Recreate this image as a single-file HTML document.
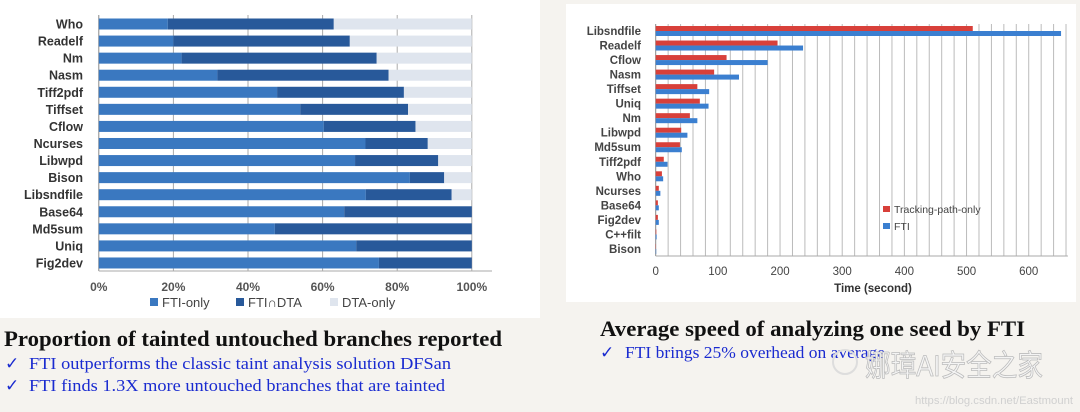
<!DOCTYPE html>
<html><head><meta charset="utf-8"><style>
html,body{margin:0;padding:0;background:#f5f3ef;}
svg{display:block;font-family:"Liberation Sans",sans-serif;}
</style></head><body>
<svg id="s" width="1080" height="412" viewBox="0 0 1080 412" xmlns="http://www.w3.org/2000/svg">
<rect x="0" y="0" width="540" height="318" fill="#ffffff"/>
<rect x="566" y="4" width="510" height="298" fill="#ffffff"/>
<g id="left"></g>
<g id="right"></g>
<text x="4" y="346" font-family="Liberation Serif,serif" font-weight="bold" font-size="22" textLength="498" lengthAdjust="spacingAndGlyphs" fill="#111">Proportion of tainted untouched branches reported</text>
<text x="5" y="369" font-family="Liberation Serif,serif" font-size="17" fill="#1a2bd0">✓</text>
<text x="29" y="369" font-family="Liberation Serif,serif" font-size="17" textLength="422" lengthAdjust="spacingAndGlyphs" fill="#1a2bd0">FTI outperforms the classic taint analysis solution DFSan</text>
<text x="5" y="391" font-family="Liberation Serif,serif" font-size="17" fill="#1a2bd0">✓</text>
<text x="29" y="391" font-family="Liberation Serif,serif" font-size="17" textLength="416" lengthAdjust="spacingAndGlyphs" fill="#1a2bd0">FTI finds 1.3X more untouched branches that are tainted</text>
<text x="600" y="336" font-family="Liberation Serif,serif" font-weight="bold" font-size="22" textLength="425" lengthAdjust="spacingAndGlyphs" fill="#111">Average speed of analyzing one seed by FTI</text>
<text x="600" y="358" font-family="Liberation Serif,serif" font-size="17" fill="#1a2bd0">✓</text>
<text x="625" y="358" font-family="Liberation Serif,serif" font-size="17" textLength="260" lengthAdjust="spacingAndGlyphs" fill="#1a2bd0">FTI brings 25% overhead on average</text>
<circle cx="845" cy="362" r="12" fill="none" stroke="#ddd" stroke-width="2"/>
<text x="865" y="376" font-family="'Liberation Sans','Noto Sans CJK SC',sans-serif" font-size="30" fill="#f4f4f4" stroke="#bbb" stroke-width="0.8" textLength="178" lengthAdjust="spacingAndGlyphs">娜璋AI安全之家</text>
<text x="915" y="404" font-size="11" fill="#d0d0d0" textLength="158" lengthAdjust="spacingAndGlyphs">https://blog.csdn.net/Eastmount</text>
</svg>
<script>
const NS="http://www.w3.org/2000/svg";
const leftCats=["Who","Readelf","Nm","Nasm","Tiff2pdf","Tiffset","Cflow","Ncurses","Libwpd","Bison","Libsndfile","Base64","Md5sum","Uniq","Fig2dev"];
const ftiOnly=[18.5,20,22.2,31.8,47.8,54,60.3,71.5,68.7,83.4,71.6,65.8,47.2,69,75.1];
const ftiAndDta=[44.5,47.3,52.3,45.9,34,28.9,24.6,16.7,22.3,9.2,23,34.2,52.8,31,24.9];
const dtaOnly=[37,32.7,25.5,22.3,18.2,17.1,15.1,11.8,9,7.4,5.4,0,0,0,0];
const leftTicks=["0%","20%","40%","60%","80%","100%"];
const rightCats=["Libsndfile","Readelf","Cflow","Nasm","Tiffset","Uniq","Nm","Libwpd","Md5sum","Tiff2pdf","Who","Ncurses","Base64","Fig2dev","C++filt","Bison"];
const trackingOnly=[510,196,114,94,67,71,55,41,39,13,10,5,3.5,3.5,1,0.5];
const ftiTime=[652,237,180,134,86,85,67,51,42,19,12,7.5,5,5,1.5,0.8];
const rightTicks=[0,100,200,300,400,500,600];

function mk(tag,attrs,parent,txt){const e=document.createElementNS(NS,tag);for(const k in attrs)e.setAttribute(k,attrs[k]);if(txt!==undefined)e.textContent=txt;parent.appendChild(e);return e;}

// Left chart
const L=document.getElementById('left');
const lx=v=>98.8+v/100*373;
const ly=i=>24+i*17.07;
for(let t=0;t<=5;t++){
  const g=mk('line',{x1:lx(t*20),x2:lx(t*20),y1:15,y2:271,stroke:t===0?'#888':'#aaa','stroke-width':1},L);
  
  
  const tl=mk('text',{x:lx(t*20),y:291,'text-anchor':'middle','font-size':12,fill:'#555','font-weight':'bold'},L,leftTicks[t]);
  
  
}
const ax=mk('line',{x1:98.8,x2:492,y1:271,y2:271,stroke:'#aaa','stroke-width':1},L);


leftCats.forEach((c,i)=>{
  const y=ly(i)-5.5;
  const a=ftiOnly[i],b=ftiAndDta[i],d=dtaOnly[i];
  const r1=mk('rect',{x:lx(0),y:y,width:lx(a)-lx(0),height:11,fill:'#3a78c0'},L);
  
  
  const r2=mk('rect',{x:lx(a),y:y,width:lx(a+b)-lx(a),height:11,fill:'#28599a'},L);
  
  
  const r3=mk('rect',{x:lx(a+b),y:y,width:lx(a+b+d)-lx(a+b),height:11,fill:'#dfe5ee'},L);
  
  
  const t=mk('text',{x:83,y:ly(i)+4.5,'text-anchor':'end','font-size':12.5,'font-weight':'bold',fill:'#333'},L,c);
  
  
});
[[150,'#3a78c0','FTI-only'],[236,'#28599a','FTI∩DTA'],[330,'#dfe5ee','DTA-only']].forEach(l=>{
  const s=mk('rect',{x:l[0],y:298,width:8,height:8,fill:l[1]},L);
  
  
  const t=mk('text',{x:l[0]+12,y:307,'font-size':13,fill:'#444'},L,l[2]);
  
  
});

// Right chart
const R=document.getElementById('right');
const rx=v=>655.7+v*0.6217;
const ry=i=>31+i*14.53;
for(let v=0;v<=660;v+=20){
  const g=mk('line',{x1:rx(v),x2:rx(v),y1:24,y2:256,stroke:v===0?'#888':'#bbb','stroke-width':1},R);
  
  
}
const rb=mk('line',{x1:rx(0),x2:rx(663),y1:256,y2:256,stroke:'#aaa'},R);


rightTicks.forEach(v=>{
  const t=mk('text',{x:rx(v),y:275,'text-anchor':'middle','font-size':11.5,fill:'#444'},R,v);
  
  
});
const xt=mk('text',{x:873,y:292,'text-anchor':'middle','font-size':11.5,'font-weight':'bold',fill:'#333'},R,'Time (second)');


rightCats.forEach((c,i)=>{
  const r1=mk('rect',{x:rx(0),y:ry(i)-5,width:rx(trackingOnly[i])-rx(0),height:5,fill:'#d8403a'},R);
  
  
  const r2=mk('rect',{x:rx(0),y:ry(i),width:rx(ftiTime[i])-rx(0),height:5,fill:'#3b7fd0'},R);
  
  
  const t=mk('text',{x:641,y:ry(i)+4,'text-anchor':'end','font-size':11.5,'font-weight':'bold',fill:'#444'},R,c);
  
  
});
[[209,'#d8403a','Tracking-path-only'],[226,'#3b7fd0','FTI']].forEach(l=>{
  const s=mk('rect',{x:883,y:l[0]-3,width:7,height:6,fill:l[1]},R);
  
  
  const t=mk('text',{x:894,y:l[0]+4,'font-size':10.5,fill:'#444'},R,l[2]);
  
  
});
</script>
</body></html>
